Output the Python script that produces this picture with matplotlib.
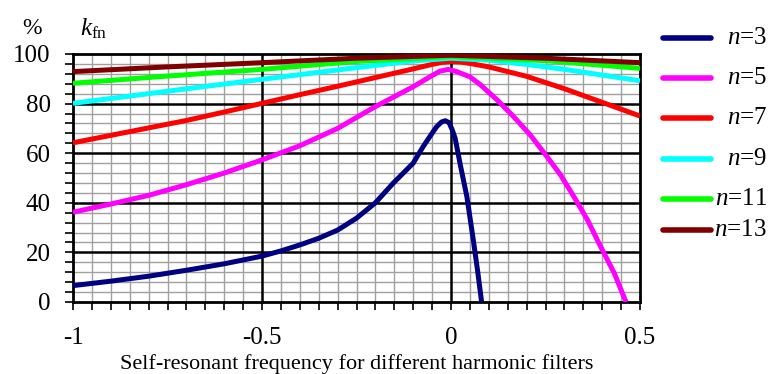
import matplotlib
matplotlib.use("Agg")
import matplotlib.pyplot as plt
from matplotlib.lines import Line2D
import numpy as np

plt.rcParams['font.family'] = ['Liberation Serif', 'DejaVu Serif']
plt.rcParams['mathtext.fontset'] = 'custom'
plt.rcParams['mathtext.rm'] = 'Liberation Serif'
plt.rcParams['mathtext.it'] = 'Liberation Serif:italic'

# Data
x3 = [-1.0, -0.9, -0.8, -0.7, -0.6, -0.5, -0.45, -0.4, -0.35, -0.3, -0.25, -0.2, -0.153,
      -0.1, -0.074, -0.056, -0.038, -0.025, -0.015, -0.005, 0.003, 0.011, 0.025, 0.042,
      0.059, 0.07, 0.081]
y3 = [6.6, 8.4, 10.4, 12.8, 15.4, 18.5, 20.6, 23.0, 25.7, 29.0, 33.8, 40.0, 47.9,
      56.0, 62.6, 66.7, 70.7, 72.6, 73.1, 72.3, 69.5, 66.0, 55.0, 42.5,
      25.0, 13.0, 0.0]

x5 = [-1.0, -0.9, -0.8, -0.7, -0.6, -0.5, -0.4, -0.3, -0.2, -0.1, -0.056, -0.029, -0.007,
      0.015, 0.05, 0.077, 0.122, 0.166, 0.21, 0.254, 0.29, 0.325, 0.361, 0.396, 0.432, 0.463]
y5 = [36.2, 39.5, 43.0, 47.3, 52.0, 57.3, 63.0, 70.0, 78.8, 86.8, 90.8, 93.1, 93.8,
      92.9, 90.8, 87.7, 81.5, 74.7, 67.3, 58.6, 51.2, 42.5, 33.1, 22.3, 11.6, 0.0]

x7 = [-1.0, -0.9, -0.8, -0.7, -0.6, -0.5, -0.4, -0.3, -0.2, -0.1, -0.056, -0.025, 0.0,
      0.025, 0.05, 0.1, 0.2, 0.3, 0.4, 0.5]
y7 = [64.2, 67.2, 70.2, 73.2, 76.6, 80.1, 83.6, 87.0, 90.5, 94.0, 95.6, 96.6, 97.0,
      96.8, 96.2, 94.8, 91.0, 86.0, 80.5, 75.0]

x9 = [-1.0, -0.75, -0.5, -0.25, -0.1, 0.0, 0.1, 0.2, 0.3, 0.4, 0.5]
y9 = [80.1, 85.0, 89.8, 94.5, 97.2, 98.3, 97.5, 95.8, 93.8, 91.5, 89.2]

x11 = [-1.0, -0.75, -0.5, -0.25, 0.0, 0.25, 0.5]
y11 = [88.2, 91.1, 93.8, 97.0, 99.0, 97.3, 94.2]

x13 = [-1.0, -0.75, -0.5, -0.25, 0.0, 0.25, 0.5]
y13 = [92.9, 94.8, 96.5, 98.3, 99.5, 98.3, 96.5]

series = [
    ("3", x3, y3, "#000080"),
    ("5", x5, y5, "#FF00FF"),
    ("7", x7, y7, "#FF0000"),
    ("9", x9, y9, "#00FFFF"),
    ("11", x11, y11, "#00FF00"),
    ("13", x13, y13, "#800000"),
]

x_ticks = [-1, -0.5, 0, 0.5]
x_tick_labels = ["-1", "-0.5", "0", "0.5"]
y_ticks = [0, 20, 40, 60, 80, 100]

fig = plt.figure(figsize=(7.71, 3.74), dpi=100)
ax = fig.add_axes([73/771, 1-302/374, (640-73)/771, (302-54)/374])

ax.set_xlim(-1, 0.5)
ax.set_ylim(0, 100)

ax.set_xticks(x_ticks)
ax.set_xticklabels(x_tick_labels)
ax.set_yticks(y_ticks)
ax.set_xticks(np.arange(-1, 0.5001, 0.05), minor=True)
ax.set_yticks(np.arange(0, 100.01, 4), minor=True)
ax.grid(which='minor', color='#a0a0a0', lw=1.0)
ax.set_axisbelow(True)

# major grid drawn above the minor grid
for xv in x_ticks[1:-1]:
    ax.axvline(xv, color='black', lw=1.8, zorder=1.5)
for yv in y_ticks[1:-1]:
    ax.axhline(yv, color='black', lw=1.8, zorder=1.5)

for name, xs, ys, c in series:
    ax.plot(xs, ys, color=c, lw=3.6, solid_capstyle='butt', solid_joinstyle='round',
            zorder=3, clip_on=True)

for s in ax.spines.values():
    s.set_linewidth(2.0)
    s.set_color('black')

ax.tick_params(which='both', direction='out', length=6, width=1.2, color='black',
               top=False, right=False, labelsize=18)
ax.tick_params(axis='x', which='major', pad=12)
ax.tick_params(axis='y', which='major', pad=10)

ax.set_xlabel("Self-resonant frequency for different harmonic filters", fontsize=16, labelpad=4)

fig.text(32/771, 1-28/374, "%", fontsize=17, ha='center', va='center')
fig.text(80/771, 1-29/374, r"$k_{\mathrm{fn}}$", fontsize=18, ha='left', va='center')

# legend (manual)
leg_y = [38, 78, 118, 159, 199, 230]
for (name, xs, ys, c), yy in zip(series, leg_y):
    fig.add_artist(Line2D([663/771, 711/771], [1-yy/374, 1-yy/374], color=c, lw=4,
                          solid_capstyle='round', transform=fig.transFigure))
    fig.text(767/771, 1-yy/374, r"$n$=" + name, fontsize=18, ha='right', va='center')

fig.savefig("out.png", dpi=100)
